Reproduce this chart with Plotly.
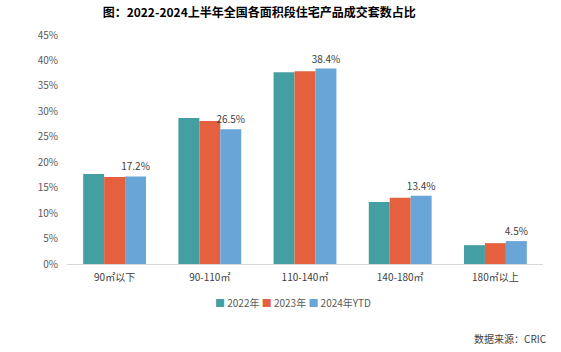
import plotly.graph_objects as go

categories = ["90㎡以下", "90-110㎡", "110-140㎡", "140-180㎡", "180㎡以上"]
series_names = ["2022年", "2023年", "2024年YTD"]
v2022 = [17.7, 28.7, 37.7, 12.2, 3.7]
v2023 = [17.1, 28.1, 37.9, 13.0, 4.1]
v2024 = [17.2, 26.5, 38.4, 13.4, 4.5]
colors = ["#449FA3", "#E4603F", "#69A5D7"]
ytick_vals = [0, 5, 10, 15, 20, 25, 30, 35, 40, 45]
ytick_text = [f"{v}%" for v in ytick_vals]

font_family = "Noto Sans CJK SC, Noto Sans, sans-serif"

fig = go.Figure()
for name, vals, c in zip(series_names, [v2022, v2023, v2024], colors):
    show_text = name == "2024年YTD"
    fig.add_trace(go.Bar(
        x=categories, y=vals, name=name, marker_color=c, marker_line_width=0,
        text=[f"{v:.1f}%" for v in vals] if show_text else None,
        textposition="outside" if show_text else None,
        constraintext="none",
        textfont=dict(size=10, color="#404040", family=font_family),
        cliponaxis=False,
    ))

legend_text = " ".join(
    f"<span style='color:{c}'>■</span> {n}" for n, c in zip(series_names, colors)
)

fig.update_layout(
    width=561, height=352,
    margin=dict(l=67, r=18, t=35, b=88),
    paper_bgcolor="white", plot_bgcolor="white",
    barmode="group", bargap=0.34, bargroupgap=0,
    font=dict(family=font_family, size=10, color="#595959"),
    title=dict(text="<b>图：2022-2024上半年全国各面积段住宅产品成交套数占比</b>",
               x=0.462, xanchor="center", y=0.965, yanchor="middle",
               font=dict(size=12, color="#000000", family=font_family)),
    showlegend=False,
    xaxis=dict(showline=True, linecolor="#D9D9D9", linewidth=1, ticks="",
               tickfont=dict(size=10, color="#404040"), ticklabelstandoff=4),
    yaxis=dict(range=[0, 45], tickvals=ytick_vals, ticktext=ytick_text,
               showgrid=False, zeroline=False, showline=False,
               tickfont=dict(size=10, color="#595959"), ticklabelstandoff=8),
    annotations=[
        dict(text=legend_text, xref="paper", yref="paper",
             x=(293 - 67) / 476, xanchor="center", y=-(302 - 264) / 229, yanchor="middle",
             showarrow=False, font=dict(size=10, color="#595959")),
        dict(text="数据来源：CRIC", xref="paper", yref="paper",
             x=(549 - 67) / 476, xanchor="right", y=-(338 - 264) / 229, yanchor="middle",
             showarrow=False, font=dict(size=10, color="#404040")),
    ],
)

fig.write_html("out.html")
